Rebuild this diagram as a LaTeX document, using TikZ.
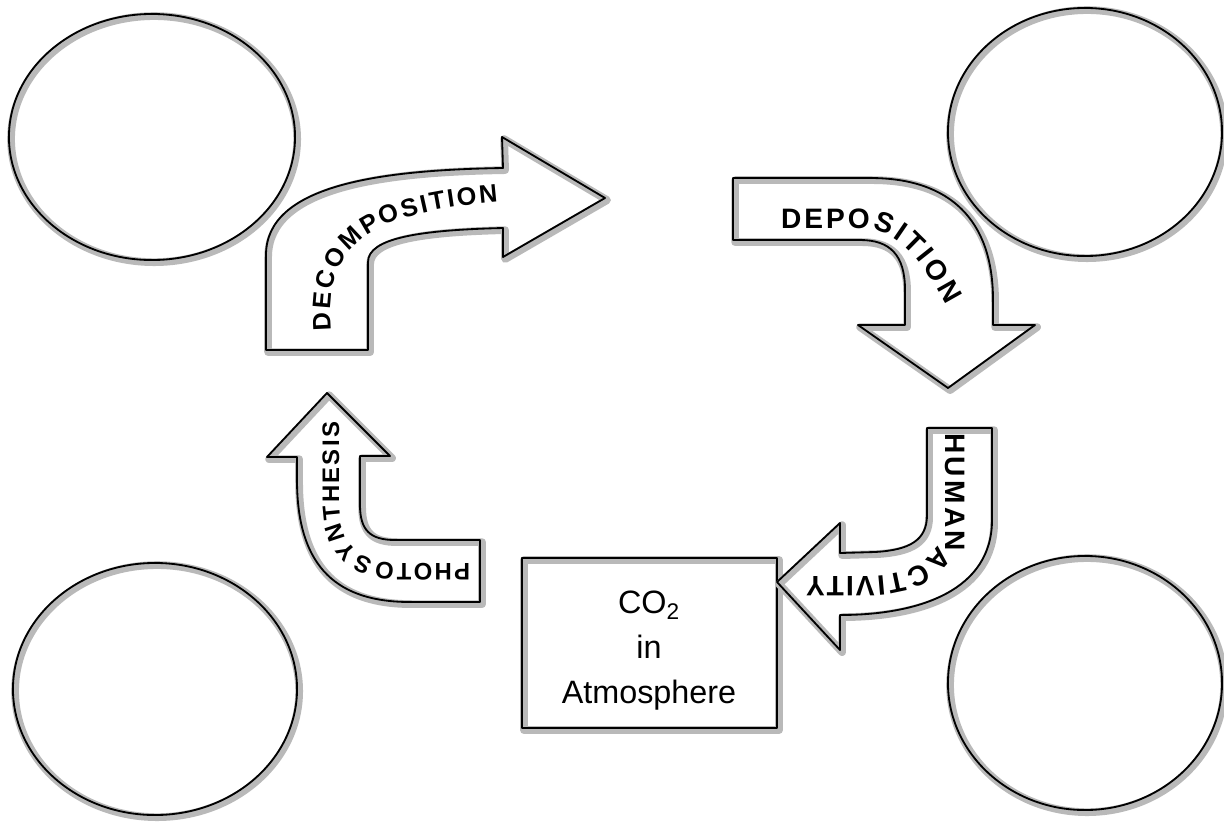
\documentclass[tikz,border=0pt]{standalone}
\usepackage{tikz}
\usepackage{xcolor}
\usepackage{fontspec}
\setmainfont{Liberation Sans}
\newfontfamily\markerfont{Liberation Sans}
\usetikzlibrary{arrows}
\usetikzlibrary{positioning}
\usetikzlibrary{shapes.geometric}
\usetikzlibrary{decorations.text}

\tikzset{
  sketch/.style={draw=black, line width=1.3pt, line join=round,
    preaction={draw=SHADE, line width=5.5pt, line join=round, transform canvas={shift={(1.5pt,-1.5pt)}}}},
  pool/.style={sketch, ellipse, inner sep=0pt},
  lettering/.style n args={2}{decorate, decoration={text along path, text align={fit to path},
    text={|\markerfont\bfseries\fontsize{#1}{#1}\selectfont|#2}}}
}

\begin{document}
\begin{tikzpicture}[x=0.025cm, y=-0.025cm]
			\definecolor{SHADE}{RGB}{185, 185, 185}
			\useasboundingbox (0,0) rectangle (1224,824);
			\node[pool, minimum width=7.15cm, minimum height=6.15cm] (poolnw) at ( 152, 137) {};
			\node[pool, minimum width=6.85cm, minimum height=6.2cm] (poolne) at (1085, 132) {};
			\node[pool, minimum width=7.1cm, minimum height=6.3cm] (poolsw) at ( 155, 689) {};
			\node[pool, minimum width=6.85cm, minimum height=6.35cm] (poolse) at (1085, 683) {};
			\node[sketch, rectangle, minimum width=6.375cm, minimum height=4.25cm] (atmos) at (649.5, 643) {};
			\node[align=center, font=\fontsize{23}{32}\selectfont] (atmostext) at (649, 651) {CO\textsubscript{2}\\in\\Atmosphere};
			\draw[sketch] (266,350) -- (266,255) .. controls (266,185) and (380,170) .. (503,168) -- (502,137) -- (605,198) -- (503,257) -- (503,228) .. controls (420,230) and (368,238) .. (368,262) -- (368,350) -- cycle;
			\draw[sketch] (733,178) -- (870,178) .. controls (950,178) and (993,220) .. (993,300) -- (993,325) -- (1035,325) -- (948,388) -- (858,325) -- (905,325) -- (905,290) .. controls (905,255) and (890,240) .. (860,240) -- (733,240) -- cycle;
			\draw[sketch] (480,602) -- (480,540) -- (395,540) .. controls (370,540) and (360,530) .. (360,505) -- (360,456) -- (390,456) -- (327,393) -- (267,457) -- (297,457) -- (297,480) .. controls (297,570) and (340,602) .. (410,602) -- cycle;
			\draw[sketch] (927,428) -- (992,428) -- (992,520) .. controls (992,590) and (920,615) .. (840,615) -- (840,650) -- (777,582) -- (840,523) -- (840,553) -- (875,552) .. controls (910,550) and (927,540) .. (927,515) -- cycle;
			\path[lettering={18}{DECOMPOSITION}] (331,330) .. controls (322,235) and (385,212) .. (498,202);
			\path[lettering={20}{DEPOSITION}] (781,228) -- (862,228) .. controls (898,230) and (920,257) .. (946,305);
			\path[lettering={17}{PHOTOSYNTHESIS}] (470,563) -- (395,563) .. controls (355,563) and (339,540) .. (339,500) -- (339,422);
			\path[lettering={20}{HUMAN}] (945,433) -- (945,551);
			\path[lettering={20}{ACTIVITY}] (938,545) .. controls (925,565) and (905,575) .. (870,576) -- (806,576);
		\end{tikzpicture}
\end{document}
